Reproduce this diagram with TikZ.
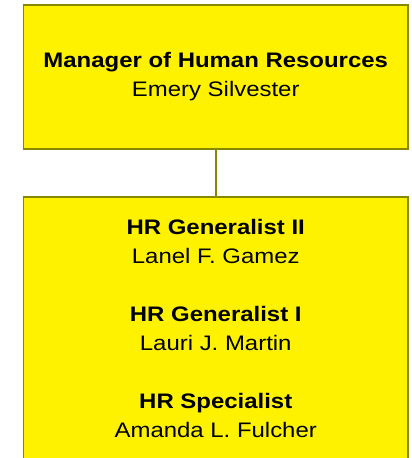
\documentclass[tikz,border=0pt]{standalone}
\usepackage{fontspec}
\setmainfont{Liberation Sans}[FakeStretch=1.14]
\definecolor{boxline}{RGB}{135,135,0}
\begin{document}
\begin{tikzpicture}
		% reporting line from the manager down to the HR staff
		[x=1pt,y=1pt,post/.style={rectangle,draw=boxline,line width=1.8pt,fill=yellow,align=center,minimum width=384.5pt,inner sep=0pt,font=\fontsize{21}{29}\selectfont}]
		\useasboundingbox (0,0) rectangle (412,-458);
		\clip (0,0) rectangle (412,-458);

		\node[post,minimum height=144pt] (mgr) at (215.75,-76.7) {\textbf{Manager of Human Resources}\\Emery Silvester};
		\node[post,anchor=north,inner ysep=22pt] (staff) at (215.75,-196.2) {\textbf{HR Generalist II}\\Lanel F. Gamez\\[29pt]\textbf{HR Generalist I}\\Lauri J. Martin\\[29pt]\textbf{HR Specialist}\\Amanda L. Fulcher};

		\draw[boxline,line width=1.5pt] (mgr) -- (staff);
	\end{tikzpicture}
\end{document}
